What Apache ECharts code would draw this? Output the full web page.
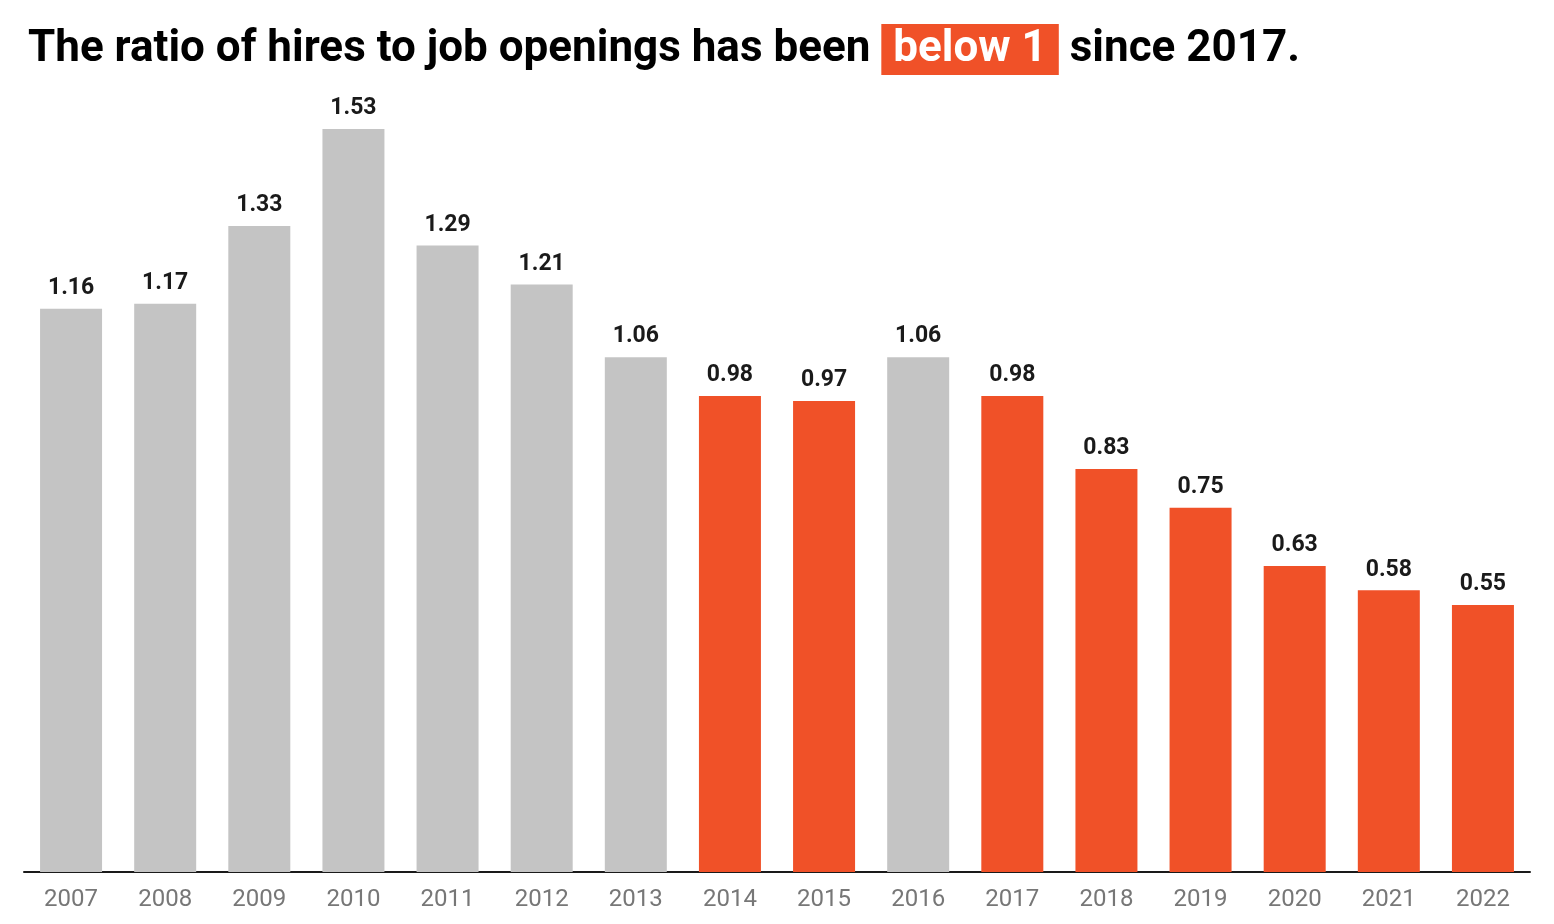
<!DOCTYPE html>
<html>
<head>
<meta charset="utf-8">
<script src="https://cdn.jsdelivr.net/npm/echarts@6/dist/echarts.min.js"></script>
<style>
  html, body { margin: 0; padding: 0; background: #ffffff; }
  #chart { width: 1554px; height: 924px; }
</style>
</head>
<body>
<div id="chart"></div>
<script>
const ORANGE = '#f05128';
const GREY = '#c4c4c4';

const years = ['2007', '2008', '2009', '2010', '2011', '2012', '2013', '2014',
    '2015', '2016', '2017', '2018', '2019', '2020', '2021', '2022'];
const ratios = [1.16, 1.17, 1.33, 1.53, 1.29, 1.21, 1.06, 0.98,
    0.97, 1.06, 0.98, 0.83, 0.75, 0.63, 0.58, 0.55];

const chartDom = document.getElementById('chart');
const myChart = echarts.init(chartDom);

// bars under 1 get the highlight colour
const barData = ratios.map(v => ({
    value: v,
    itemStyle: { color: v < 1 ? ORANGE : GREY }
}));

const option = {
    backgroundColor: '#ffffff',
    animation: false,
    title: {
        text: 'The ratio of hires to job openings has been {hl|below 1} since 2017.',
        left: 23,
        top: 19,
        textStyle: {
            fontFamily: 'Roboto',
            fontWeight: 'bold',
            fontSize: 44,
            color: '#000000',
            rich: {
                hl: {
                    fontFamily: 'Roboto',
                    fontWeight: 'bold',
                    fontSize: 44,
                    color: '#ffffff',
                    backgroundColor: ORANGE,
                    padding: [4, 12, 3, 12]
                }
            }
        }
    },
    grid: {
        left: 24,
        right: 24,
        top: 95,
        bottom: 52,
        containLabel: false
    },
    xAxis: {
        type: 'category',
        data: years,
        axisLine: { lineStyle: { color: '#1a1a1a', width: 2 } },
        axisTick: { show: false },
        axisLabel: {
            fontFamily: 'Roboto',
            fontSize: 24,
            color: '#777777',
            margin: 16
        }
    },
    yAxis: {
        type: 'value',
        min: 0,
        max: 1.6,
        show: false,
        splitLine: { show: false }
    },
    series: [{
        type: 'bar',
        data: barData,
        barWidth: 62,
        label: {
            show: true,
            position: 'top',
            distance: 9,
            fontFamily: 'Roboto',
            fontWeight: 'bold',
            fontSize: 23,
            color: '#1a1a1a',
            formatter: p => p.value.toFixed(2)
        }
    }]
};

myChart.setOption(option);
window.addEventListener('resize', function() {
    myChart.resize();
});
</script>
</body>
</html>
